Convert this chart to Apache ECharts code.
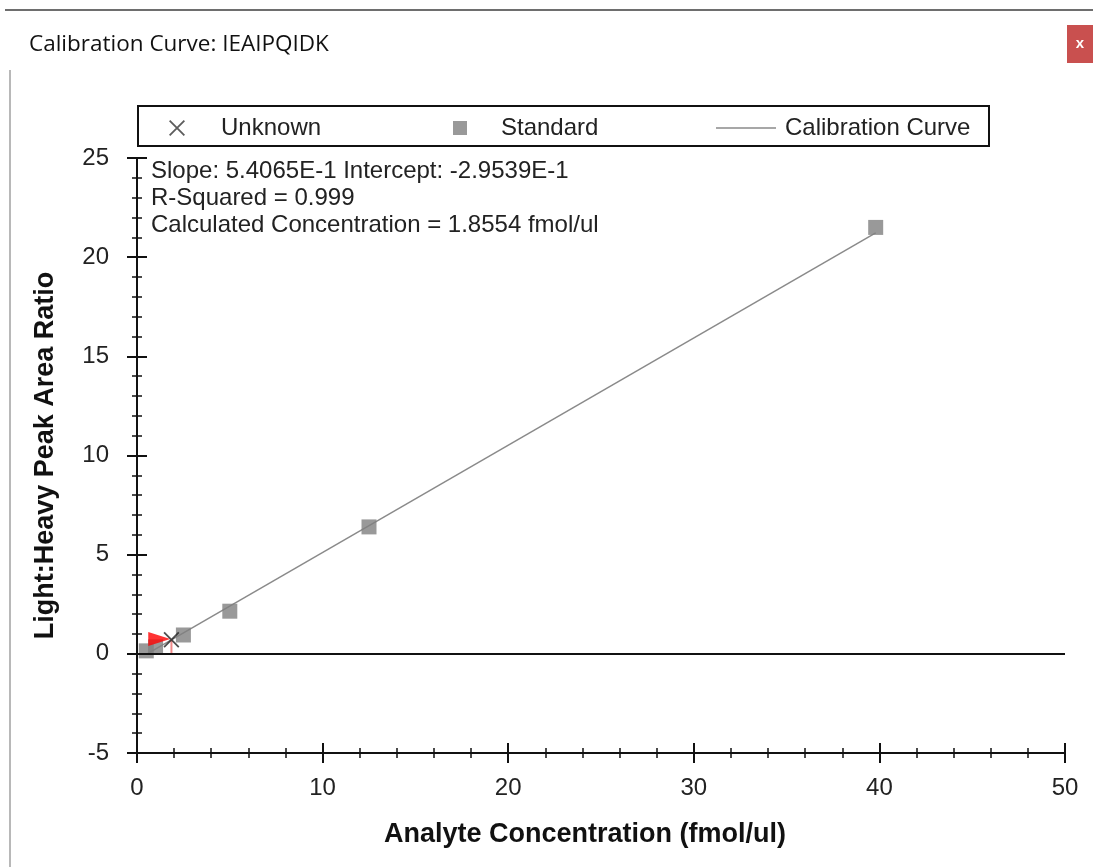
<!DOCTYPE html>
<html>
<head>
<meta charset="utf-8">
<script src="https://cdn.jsdelivr.net/npm/echarts@6/dist/echarts.min.js"></script>
<style>html,body{margin:0;padding:0;background:#fff;}#c{width:1093px;height:867px;}</style>
</head>
<body>
<div id="c"></div>
<script>
var standardX = [0.5, 1, 2.5, 5, 12.5, 39.8];
var standardY = [0.15, 0.35, 0.95, 2.15, 6.4, 21.5];
var curveX = [0.5, 39.8];
var curveY = [-0.025, 21.22];
var unknownX = [1.8554];
var unknownY = [0.707];
var arrowX = [1.2];
var arrowY = [0.75];
var xTicks = [0, 10, 20, 30, 40, 50];
var yTicks = [-5, 0, 5, 10, 15, 20, 25];
var annotations = ['Slope: 5.4065E-1 Intercept: -2.9539E-1', 'R-Squared = 0.999', 'Calculated Concentration = 1.8554 fmol/ul'];

function pairs(xs, ys){ return xs.map(function(x,i){return [x, ys[i]];}); }

var FONT = '"Liberation Sans", Arial, sans-serif';
var XPATH = 'path://M0,0.8L0.8,0L10,9.2L9.2,10Z M9.2,0L10,0.8L0.8,10L0,9.2Z';

var chart = echarts.init(document.getElementById('c'), null, {renderer:'canvas'});

function axisCommon(inside, showLabel){
  return {
    axisLine:{show:true, onZero:false, lineStyle:{color:'#111', width:2}},
    axisTick:{show:true, inside:inside, length:10, lineStyle:{color:'#111', width:2}},
    minorTick:{show:true, splitNumber:5, length:5, lineStyle:{color:'#111', width:1.5}},
    splitLine:{show:false},
    axisLabel:{show:showLabel}
  };
}

var xa0 = Object.assign(axisCommon(false, true), {type:'value', min:xTicks[0], max:xTicks[xTicks.length-1], interval:10, position:'bottom',
  name:'Analyte Concentration (fmol/ul)', nameLocation:'middle', nameGap:68,
  nameTextStyle:{fontFamily:FONT, fontSize:27, fontWeight:'bold', color:'#111', padding:[0,32,0,0]}});
xa0.axisLabel = {show:true, margin:23, fontFamily:FONT, fontSize:24, color:'#222'};
var xa1 = Object.assign(axisCommon(true, false), {type:'value', min:xTicks[0], max:xTicks[xTicks.length-1], interval:10, position:'bottom'});

var ya0 = Object.assign(axisCommon(false, true), {type:'value', min:yTicks[0], max:yTicks[yTicks.length-1], interval:5, position:'left',
  name:'Light:Heavy Peak Area Ratio', nameLocation:'middle', nameGap:78, nameRotate:90,
  nameTextStyle:{fontFamily:FONT, fontSize:27, fontWeight:'bold', color:'#111'}});
ya0.axisLabel = {show:true, margin:28, fontFamily:FONT, fontSize:24, color:'#222'};
var ya1 = Object.assign(axisCommon(true, false), {type:'value', min:yTicks[0], max:yTicks[yTicks.length-1], interval:5, position:'left'});

var legendBase = {top:111, orient:'horizontal', selectedMode:false, itemHeight:14};
function legText(pad){ return {fontFamily:FONT, fontSize:24, color:'#222', padding:[0,0,0,pad]}; }

chart.setOption({
  animation:false,
  backgroundColor:'#fff',
  title:{text:'Calibration Curve: IEAIPQIDK', left:24, top:28,
    textStyle:{fontFamily:'"Open Sans", sans-serif', fontSize:22.5, fontWeight:'normal', color:'#111'}},
  grid:{left:137, right:28, top:158, bottom:114, containLabel:false},
  legend:[
    Object.assign({}, legendBase, {left:164, data:[{name:'Unknown', icon:XPATH}], itemWidth:16, itemHeight:16,
      itemStyle:{color:'#333'}, textStyle:legText(31)}),
    Object.assign({}, legendBase, {left:448, data:[{name:'Standard', icon:'rect'}], itemWidth:14, itemHeight:14,
      textStyle:legText(29)}),
    Object.assign({}, legendBase, {left:711, data:[{name:'Calibration Curve', icon:'rect'}], itemWidth:60, itemHeight:1.5,
      itemStyle:{color:'#8a8a8a'}, textStyle:legText(4)})
  ],
  xAxis:[xa0, xa1],
  yAxis:[ya0, ya1],
  graphic:[
    {type:'line', shape:{x1:5, y1:10, x2:1093, y2:10}, style:{stroke:'#6e6e6e', lineWidth:2}},
    {type:'line', shape:{x1:10, y1:70, x2:10, y2:867}, style:{stroke:'#a0a0a0', lineWidth:1.5}},
    {type:'rect', shape:{x:1067, y:25, width:30, height:38}, style:{fill:'#c9504f'}},
    {type:'text', x:1080, y:44, style:{text:'x', fill:'#fff', font:'bold 15px '+FONT, align:'center', verticalAlign:'middle'}},
    {type:'rect', shape:{x:138, y:106, width:851, height:40}, style:{fill:'none', stroke:'#111', lineWidth:2}, z:-1},
    {type:'text', x:151, y:171, style:{text:annotations[0], fill:'#222', font:'24px '+FONT, verticalAlign:'middle'}},
    {type:'text', x:151, y:198, style:{text:annotations[1], fill:'#222', font:'24px '+FONT, verticalAlign:'middle'}},
    {type:'text', x:151, y:225, style:{text:annotations[2], fill:'#222', font:'24px '+FONT, verticalAlign:'middle'}}
  ],
  series:[
    {name:'Calibration Curve', type:'line', data:pairs(curveX, curveY), symbol:'none',
      lineStyle:{color:'#8a8a8a', width:1.5}, itemStyle:{color:'#8a8a8a'}, z:2},
    {name:'Standard', type:'scatter', data:pairs(standardX, standardY), symbol:'rect', symbolSize:15,
      itemStyle:{color:'#808080'}, z:3,
      markLine:{silent:true, symbol:'none', label:{show:false}, lineStyle:{color:'#111', width:2, type:'solid'},
        data:[{yAxis:0}]}},
    {name:'Marker', type:'line', data:[[unknownX[0], 0], [unknownX[0], unknownY[0]]], symbol:'none',
      lineStyle:{color:'#f08a8a', width:2}, z:4, silent:true},
    {name:'Arrow', type:'scatter', data:pairs(arrowX, arrowY), symbol:'triangle', symbolSize:[14, 22], symbolRotate:-90,
      itemStyle:{color:'#ff0000'}, z:5, silent:true},
    {name:'Unknown', type:'scatter', data:pairs(unknownX, unknownY), symbol:XPATH, symbolSize:16,
      itemStyle:{color:'#222'}, z:6}
  ]
});
</script>
</body>
</html>
